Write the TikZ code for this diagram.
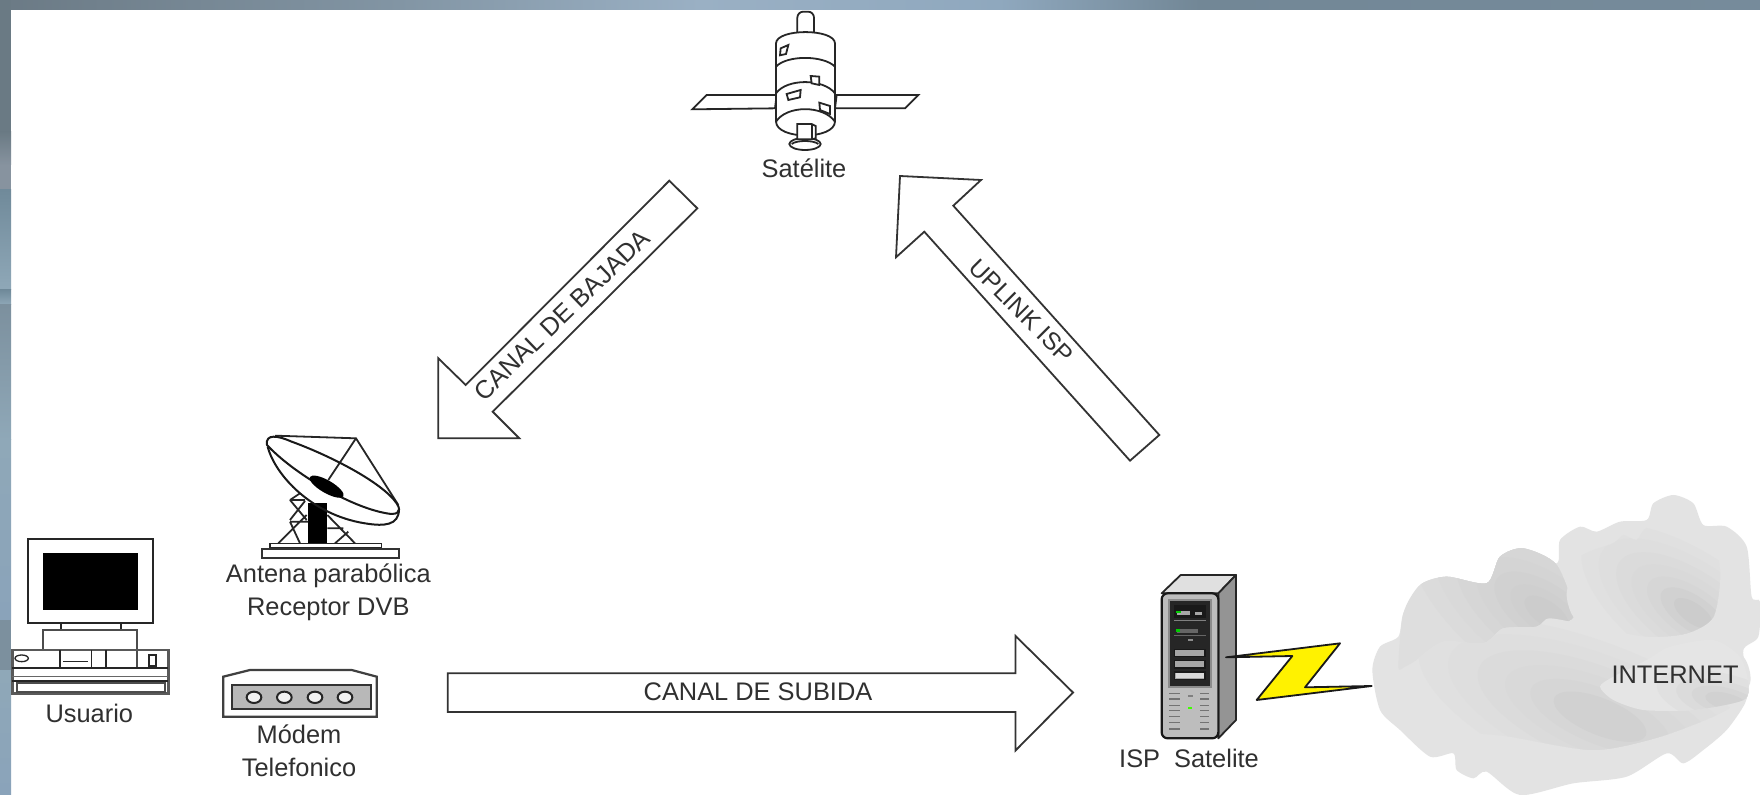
\documentclass[tikz,border=0pt]{standalone}
\usepackage{fontspec}
\setmainfont{Liberation Sans}
\definecolor{txt}{HTML}{303030}
\tikzset{
  lbl/.style={font=\fontsize{12.7}{14}\selectfont,text=txt,inner sep=0pt,align=center},
  arrowlbl/.style={font=\fontsize{12.7}{15}\selectfont,text=txt,inner sep=0pt},
  blockarrow/.style={draw=black!80,fill=white,line width=.9pt,line join=miter},
  ln/.style={draw=black!85,line width=.9pt},
  thinln/.style={draw=black!85,line width=.65pt}
}
\begin{document}
\begin{tikzpicture}[x=0.5pt,y=-0.5pt]
\useasboundingbox (0,0) rectangle (1760,795);
\fill[white] (0,0) rectangle (1760,795);
% top strip
\definecolor{ba}{HTML}{6B7A85}\definecolor{bb}{HTML}{8295A4}\definecolor{bc}{HTML}{9AB0C4}\definecolor{bd}{HTML}{8FA8BE}\definecolor{be}{HTML}{728796}\definecolor{bf}{HTML}{768B9B}
\shade[left color=ba,right color=bb] (0,0) rectangle (400,10);
\shade[left color=bb,right color=bc] (399,0) rectangle (700,10);
\shade[left color=bc,right color=bd] (699,0) rectangle (1000,10);
\shade[left color=bd,right color=be] (999,0) rectangle (1200,10);
\shade[left color=be,right color=bf] (1199,0) rectangle (1760,10);
% left strip
\definecolor{la}{HTML}{6A7A84}\definecolor{lb}{HTML}{87939F}\definecolor{lc}{HTML}{708A9A}\definecolor{ld}{HTML}{8FA8B8}\definecolor{le}{HTML}{7C909E}\definecolor{lf}{HTML}{8AA3BA}
\fill[la] (0,0) rectangle (11,132);
\shade[top color=la,bottom color=lb] (0,132) rectangle (11,165);
\fill[lb] (0,165) rectangle (11,190);
\shade[top color=lc,bottom color=ld] (0,190) rectangle (11,290);
\shade[top color=lc,bottom color=ld] (0,290) rectangle (11,305);
\shade[top color=le,bottom color=ld] (0,305) rectangle (11,440);
\shade[top color=ld,bottom color=lf] (0,440) rectangle (11,620);
\fill[le] (0,620) rectangle (11,670);
\shade[top color=ld,bottom color=lf] (0,670) rectangle (11,795);

% block arrows
\draw[blockarrow] (669.3,180.7) -- (697.3,208.3) -- (492.7,411.7) -- (519.3,438.3) -- (438.3,438.3) -- (438.3,358.3) -- (465.7,385) -- cycle;
\draw[blockarrow] (900,176) -- (981,180) -- (953.3,205.7) -- (1159.3,435) -- (1130,460.7) -- (924.3,231.7) -- (896,257.3) -- cycle;
\draw[blockarrow] (447.7,673.3) -- (1015.5,673.3) -- (1015.5,636) -- (1073,692.5) -- (1015.5,750.5) -- (1015.5,712) -- (447.7,712) -- cycle;
\node[arrowlbl,rotate=44] (lblBajada) at (562,315) {CANAL DE BAJADA};
\node[arrowlbl,font=\fontsize{12.3}{15}\selectfont,rotate=-45] (lblUplink) at (1021.7,311) {UPLINK ISP};
\node[arrowlbl] (lblSubida) at (758,691.7) {CANAL DE SUBIDA};

% satellite
\begin{scope}[shift={(660,0)},scale=1/3]
\draw[ln,fill=white] (140,285) -- (350,285) -- (345,325) -- (97,328) -- cycle;
\draw[ln,fill=white] (530,285) -- (775,285) -- (735,325) -- (525,325) -- cycle;
\draw[ln,fill=white,rounded corners=3pt] (412,97) -- (412,35) -- (462,35) -- (462,97);
\draw[ln,fill=white] (348,130) .. controls (350,85) and (523,85) .. (525,130) -- (525,365)
  .. controls (523,420) and (350,420) .. (348,365) -- cycle;
\draw[ln] (348,200) .. controls (380,165) and (490,165) .. (525,200);
\draw[ln] (348,280) .. controls (380,235) and (490,235) .. (525,280);
\draw[ln] (348,365) .. controls (380,315) and (490,315) .. (525,365);
\draw[ln,fill=white] (362,145) -- (385,135) -- (378,162) -- (360,166) -- cycle;
\draw[ln,fill=white] (452,228) -- (478,230) -- (478,255) -- (455,250) -- cycle;
\draw[ln,fill=white] (380,282) -- (422,270) -- (420,292) -- (385,300) -- cycle;
\draw[ln,fill=white] (478,308) -- (510,318) -- (510,342) -- (480,330) -- cycle;
\draw[ln,fill=white] (435,432) ellipse [x radius=47,y radius=18];
\draw[ln] (395,432) .. controls (410,420) and (460,420) .. (475,432);
\draw[ln,fill=white] (412,418) -- (412,372) -- (455,372) -- (467,378) -- (467,415) -- (455,418) -- cycle;
\draw[ln] (455,372) -- (455,418);
\node[lbl] (lblSat) at (432,505) {Satélite};
\end{scope}

% dish
\begin{scope}[shift={(255,425)},scale=1/3]
\fill[black] (160,235) rectangle (217,355);
\draw[ln] (105,225) -- (150,225) (105,225) -- (155,285) (150,228) -- (105,285) (105,225) -- (135,205)
  (105,290) -- (160,290) (70,355) -- (155,270) (105,290) -- (135,355)
  (217,310) -- (265,310) (217,270) -- (300,355) (240,355) -- (280,320);
\draw[thinln,fill=white] (45,355) rectangle (380,369);
\draw[line width=1.1pt,draw=black!80,fill=white] (20,372) rectangle (432,400);
\draw[ln] (60,32) -- (303,40) -- (430,240);
\draw[ln] (303,40) -- (220,165);
\draw[line width=1pt,draw=black!90] (36,60) .. controls (30,25) and (70,32) .. (110,50) .. controls (220,90) and (380,170) .. (425,235)
  .. controls (445,265) and (420,270) .. (395,265) .. controls (280,245) and (110,140) .. (36,60) -- cycle;
\draw[line width=1pt,draw=black!90] (38,65) .. controls (60,150) and (170,270) .. (330,295) .. controls (390,305) and (430,300) .. (432,255);
\fill[black,rotate around={-30:(215,185)}] (215,185) ellipse [x radius=58,y radius=19];
\end{scope}

% computer and modem
\begin{scope}[shift={(0,420)},scale=1/3]
\draw[ln,fill=white] (85,357) rectangle (458,610);
\fill[black] (130,398) rectangle (413,570);
\draw[ln] (183,610) -- (183,630) (362,610) -- (362,630);
\draw[ln,draw=black!70] (130,690) -- (130,630) -- (410,630) -- (410,745);
\draw[line width=1.3pt,draw=black!65] (37,690) rectangle (505,820);
\draw[ln] (37,745) -- (505,745);
\draw[line width=.5pt,draw=black!60] (37,770) -- (505,770);
\draw[thinln] (37,783) -- (505,783);
\draw[line width=.9pt,draw=black!70,fill=white] (50,790) rectangle (495,815);
\draw[thinln] (180,690) -- (180,745) (275,690) -- (275,745) (318,690) -- (318,745);
\draw[thinln] (190,725) -- (265,725);
\draw[thinln] (65,715) ellipse [x radius=20,y radius=10];
\draw[thinln,fill=white] (447,705) rectangle (468,738);
\node[lbl] (lblUsuario) at (268,880) {Usuario};
\node[lbl] (lblAntena) at (985,517) {Antena parabólica\\[2.6pt]Receptor DVB};

\draw[line width=1.1pt,draw=black!75,fill=white] (670,770) -- (750,750) -- (1055,750) -- (1130,770) -- (1130,890) -- (670,890) -- cycle;
\draw[line width=1.1pt,draw=black!80,fill=black!28] (695,795) -- (1112,795) -- (1112,868) -- (695,868) -- cycle;
\foreach \mx in {762,853,945,1035}
  \draw[line width=1pt,draw=black!85,fill=black!5] (\mx,832) ellipse [x radius=22,y radius=17];
\node[lbl] (lblModem) at (897,992) {Módem\\[2.6pt]Telefonico};
\end{scope}

% cloud
\begin{scope}[shift={(1360,470)},scale=1/3]
\fill[black!11] plot[smooth cycle,tension=.45] coordinates {(37,600) (60,530) (115,500) (130,430) (180,345) (260,320) (380,340) (420,260) (490,235) (590,280) (600,210) (660,170) (710,185) (780,155) (860,150) (880,100) (940,75) (1000,100) (1030,165) (1100,170) (1160,230) (1175,380) (1200,395) (1195,500) (1150,540) (1165,640) (1155,700) (1100,780) (1030,840) (970,880) (920,850) (800,920) (640,940) (480,975) (380,905) (340,925) (290,900) (280,850) (210,860) (120,780) (60,720)};
% upper-left puff
\begin{scope}
\clip plot[smooth cycle,tension=.45] coordinates {(115,590) (130,430) (180,345) (260,320) (380,340) (420,260) (490,235) (590,285) (640,440) (530,470) (370,520) (250,520) (170,570) (135,590)};
\fill[black!13] (0,100) rectangle (800,700);
\foreach \r/\g in {340/14,280/15,225/16,175/17,130/18,90/19,55/20}
  \fill[black!\g,rotate around={-35:(560,430)}] (560,430) ellipse [x radius=\r*1.4,y radius=\r*.65];
\end{scope}
% upper-right puff
\begin{scope}
\clip plot[smooth cycle,tension=.45] coordinates {(620,370) (650,270) (700,240) (760,220) (790,195) (830,210) (870,170) (1040,175) (1080,300) (1060,440) (980,490) (860,500) (700,470) (640,440)};
\fill[black!11] (500,100) rectangle (1200,600);
\foreach \r/\g in {290/12,245/13,200/14,160/15,120/16,85/18,50/20}
  \fill[black!\g,rotate around={-35:(1000,430)}] (1000,430) ellipse [x radius=\r*1.35,y radius=\r*.6];
\end{scope}
% lower main puff
\begin{scope}
\clip plot[smooth cycle,tension=.45] coordinates {(100,640) (170,570) (250,515) (370,520) (430,475) (530,470) (570,445) (700,470) (850,500) (980,500) (1050,510) (1150,560) (1170,640) (1100,720) (900,800) (700,840) (450,800) (300,780) (180,700) (130,670)};
\fill[black!11] (0,350) rectangle (1200,950);
\foreach \r/\g in {430/12,360/13,290/14,225/15,165/16,110/18}
  \fill[black!\g,rotate around={-22:(720,740)}] (720,740) ellipse [x radius=\r*1.35,y radius=\r*.5];
\end{scope}
% small puff behind the word
\begin{scope}
\clip plot[smooth cycle,tension=.45] coordinates {(720,650) (760,620) (860,570) (930,530) (1060,510) (1140,560) (1165,640) (1150,690) (1000,720) (850,720) (760,690)};
\fill[black!10] (700,500) rectangle (1200,750);
\foreach \r/\g in {180/12,130/14,90/16,55/18}
  \fill[black!\g,rotate around={-15:(1100,695)}] (1100,695) ellipse [x radius=\r*1.2,y radius=\r*.45];
\end{scope}
\node[arrowlbl] (lblInternet) at (945,615) {INTERNET};
\end{scope}

% server and bolt
\begin{scope}[shift={(1090,550)},scale=1/3]
\draw[ln,fill=black!12,line join=round] (215,130) -- (272,75) -- (438,75) -- (385,130) -- cycle;
\draw[ln,fill=black!42,line join=round] (385,130) -- (438,75) -- (438,510) -- (385,565) -- cycle;
\draw[line width=1.1pt,draw=black!90,fill=black!26,rounded corners=3pt] (215,130) rectangle (385,565);
\draw[line width=1pt,draw=black!45,fill=black!85] (238,150) rectangle (362,410);
\fill[black!90] (252,165) rectangle (347,205);
\fill[black!35] (262,182) rectangle (300,195);
\fill[black!35] (315,186) rectangle (335,194);
\fill[green!80!black] (258,182) rectangle (272,190);
\draw[line width=.5pt,draw=black!50] (252,212) -- (347,212);
\fill[black!60] (262,238) rectangle (325,248);
\fill[green!80!black] (258,238) rectangle (270,246);
\draw[line width=.5pt,draw=black!60] (252,258) -- (347,258);
\fill[black!45] (295,268) rectangle (310,272);
\foreach \yy in {298,332,366}
  \draw[line width=.8pt,draw=black!90,fill=black!35] (254,\yy) rectangle (345,\yy+22);
\fill[black!15] (258,370) rectangle (342,384);
\foreach \yy in {428,445,465,480,498,515,535}{
  \fill[black!55] (238,\yy) rectangle (270,\yy+4);
  \fill[black!55] (330,\yy) rectangle (358,\yy+4);
}
\fill[black!50] (295,436) rectangle (308,440);
\fill[green!75!yellow] (295,470) rectangle (305,476);
\draw[line width=.9pt,draw=black!90,fill=yellow,line join=round] (408,322) -- (750,280) -- (645,412) -- (845,408) -- (500,450) -- (607,318) -- cycle;
\node[lbl] (lblIsp) at (297,625) {ISP\hspace{.55em}Satelite};
\end{scope}
\end{tikzpicture}
\end{document}
